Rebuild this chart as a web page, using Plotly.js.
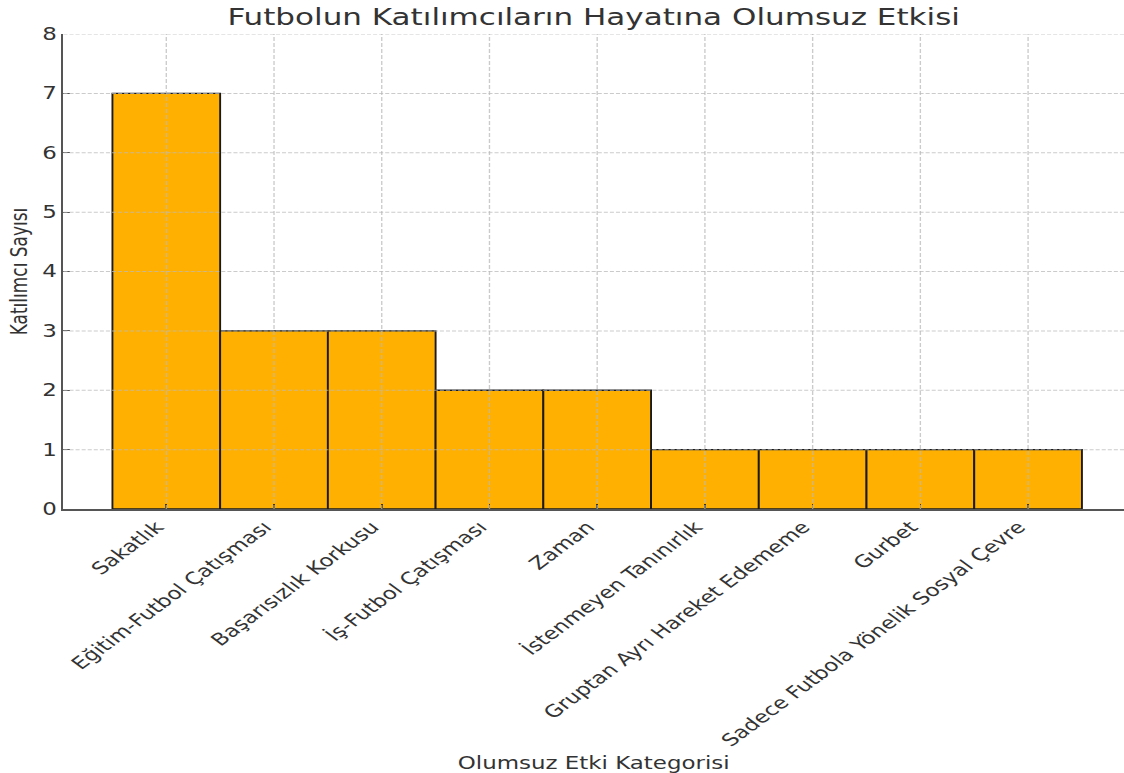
<!DOCTYPE html>
<html>
<head>
<meta charset="utf-8">
<script src="https://cdn.plot.ly/plotly-3.0.1.min.js"></script>
<style>
html,body{margin:0;padding:0;background:#fff;overflow:hidden;}
#chart{width:833px;height:773px;transform:scaleX(1.3493);transform-origin:0 0;}
</style>
</head>
<body>
<div id="chart"></div>
<script>
const categories = ["Sakatlık", "Eğitim-Futbol Çatışması", "Başarısızlık Korkusu", "İş-Futbol Çatışması", "Zaman", "İstenmeyen Tanınırlık", "Gruptan Ayrı Hareket Edememe", "Gurbet", "Sadece Futbola Yönelik Sosyal Çevre"];
const counts = [7, 3, 3, 2, 2, 1, 1, 1, 1];
const yTicks = [0, 1, 2, 3, 4, 5, 6, 7, 8];
const titleText = "Futbolun Katılımcıların Hayatına Olumsuz Etkisi";
const xTitle = "Olumsuz Etki Kategorisi";
const yTitle = "Katılımcı Sayısı";

const idx = categories.map((c, i) => i);
const vGrid = {color: "rgba(185,185,185,0.75)", width: 1, dash: "4px,2px"};
const hGrid = {color: "rgba(185,185,185,0.75)", width: 1, dash: "3px,1.5px"};
const shapes = [];
idx.forEach(i => shapes.push({type: "line", layer: "above", xref: "x", yref: "paper", x0: i, x1: i, y0: 0, y1: 1, line: vGrid}));
yTicks.slice(1).forEach(v => shapes.push({type: "line", layer: "above", xref: "paper", yref: "y", x0: 0, x1: 1, y0: v, y1: v, line: hGrid}));

const trace = {
  type: "bar",
  x: idx,
  y: counts,
  width: 1,
  marker: {color: "#FFB000", line: {color: "#1a1a1a", width: 1.4}},
  hoverinfo: "skip"
};

const layout = {
  width: 833, height: 773,
  margin: {l: 46.5, r: 0, t: 34, b: 264},
  paper_bgcolor: "#fff", plot_bgcolor: "#fff",
  font: {family: "DejaVu Sans", color: "#333", size: 17},
  title: {text: titleText, font: {size: 23, color: "#333"}, x: 0.5, xref: "paper", xanchor: "center", y: 1 - 17/773, yref: "container", yanchor: "middle"},
  bargap: 0,
  showlegend: false,
  shapes: shapes,
  xaxis: {
    range: [-0.955, 8.89],
    tickmode: "array", tickvals: idx, ticktext: categories,
    tickangle: -45,
    ticklabelshift: -7,
    ticks: "inside", ticklen: 5, tickcolor: "#333", tickwidth: 1.2,
    showline: true, linecolor: "#555", linewidth: 1.5,
    showgrid: false, zeroline: false,
    tickfont: {size: 17, color: "#333"},
    title: {text: xTitle, font: {size: 17, color: "#333"}, standoff: 10}
  },
  yaxis: {
    range: [0, 8],
    tickmode: "array", tickvals: yTicks,
    ticks: "inside", ticklen: 5, tickcolor: "#555", tickwidth: 1.2,
    showline: true, linecolor: "#555", linewidth: 1.5,
    showgrid: false, zeroline: false,
    tickfont: {size: 17, color: "#333"},
    title: {text: yTitle, font: {size: 17, color: "#333"}, standoff: 6}
  }
};

Plotly.newPlot("chart", [trace], layout, {displayModeBar: false, staticPlot: true});
</script>
</body>
</html>
